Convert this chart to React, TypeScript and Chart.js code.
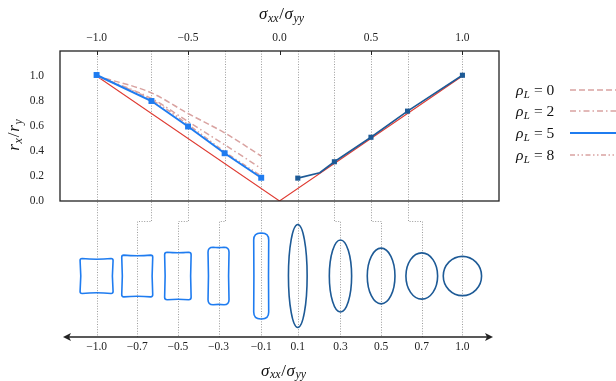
import React, { useEffect, useRef } from 'react';
import { Chart, registerables } from 'chart.js';
Chart.register(...registerables);

// ---- data ----
const stressLeft = [-1.0, -0.7, -0.5, -0.3, -0.1];
const stressRight = [0.1, 0.3, 0.5, 0.7, 1.0];
const stressAll = [...stressLeft, ...stressRight];
const topTicks = [-1.0, -0.5, 0.0, 0.5, 1.0];
const yTicks = [0.0, 0.2, 0.4, 0.6, 0.8, 1.0];

const ratioRho0 = [1.0, 0.865, 0.7, 0.545, 0.36];
const ratioRho2 = [1.0, 0.82, 0.635, 0.45, 0.26];
const ratioRho5Left = [1.008, 0.8, 0.596, 0.382, 0.186];
const ratioRho8 = [1.0, 0.81, 0.612, 0.395, 0.2];

const rho5RightCurveX = [0.1, 0.22, 0.3, 0.5, 0.7, 1.0];
const rho5RightCurveY = [0.183, 0.226, 0.314, 0.51, 0.719, 1.006];
const rho5RightMarks = [0.183, 0.314, 0.51, 0.719, 1.006];

const refX = [-1.0, 0.0, 1.0];
const refY = [1.0, 0.0, 1.0];

const legendLabels = ['0', '2', '5', '8'];

// pore glyph dimensions
const poreWidth = [33, 31, 26.5, 21, 15, 18.7, 22.3, 27.7, 31.7, 38.3];
const poreHeight = [35, 41.7, 47.6, 57.6, 86, 103, 72, 55.7, 46.3, 39.3];
const poreCorner = [2, 2, 2.5, 5, 7, 0, 0, 0, 0, 0];
const porePinch = [0.7, 0.6, 0.5, 0.45, 0.2, 0, 0, 0, 0, 0];

// ---- styles ----
const lightBlue = '#1f7cf0';
const darkBlue = '#1d5a96';
const pink = '#d9a3a1';
const red = '#df3b32';
const SERIF = '"Liberation Serif", "DejaVu Serif", serif';

const fmt = (v: number) => (v < 0 ? '\u2212' : '') + Math.abs(v).toFixed(1);
const pts = (xs: number[], ys: number[]) => xs.map((x, i) => ({ x, y: ys[i] }));

type Seg = { t: string; it?: boolean; sub?: boolean };

function mathWidth(ctx: CanvasRenderingContext2D, segs: Seg[], size: number, gap: number) {
  let w = 0;
  segs.forEach((s, i) => {
    ctx.font = `${s.it ? 'italic ' : ''}${s.sub ? size * 0.7 : size}px ${SERIF}`;
    w += ctx.measureText(s.t).width + (i < segs.length - 1 ? gap : 0);
  });
  return w;
}

function drawMath(ctx: CanvasRenderingContext2D, segs: Seg[], x: number, y: number, size: number, gap: number, align: 'left' | 'center', subDrop = 0.2) {
  const total = mathWidth(ctx, segs, size, gap);
  let cx = align === 'center' ? x - total / 2 : x;
  ctx.textAlign = 'left';
  ctx.textBaseline = 'alphabetic';
  segs.forEach((s) => {
    ctx.font = `${s.it ? 'italic ' : ''}${s.sub ? size * 0.7 : size}px ${SERIF}`;
    ctx.fillText(s.t, cx, y + (s.sub ? size * subDrop : 0));
    cx += ctx.measureText(s.t).width + gap;
  });
}

const sigmaTitle: Seg[] = [
  { t: 'σ', it: true },
  { t: 'xx', it: true, sub: true },
  { t: '/' },
  { t: 'σ', it: true },
  { t: 'yy', it: true, sub: true },
];
const rTitle: Seg[] = [
  { t: 'r', it: true },
  { t: 'x', it: true, sub: true },
  { t: '/' },
  { t: 'r', it: true },
  { t: 'y', it: true, sub: true },
];

function drawPore(ctx: CanvasRenderingContext2D, cx: number, cy: number, w: number, h: number, r: number, c: number) {
  ctx.beginPath();
  if (r === 0) {
    ctx.ellipse(cx, cy, w / 2, h / 2, 0, 0, Math.PI * 2);
  } else {
    const x0 = cx - w / 2, x1 = cx + w / 2, y0 = cy - h / 2, y1 = cy + h / 2;
    ctx.moveTo(x0 + r, y0);
    ctx.quadraticCurveTo(cx, y0 + 2 * c, x1 - r, y0);
    ctx.quadraticCurveTo(x1, y0, x1, y0 + r);
    ctx.quadraticCurveTo(x1 - 2 * c, cy, x1, y1 - r);
    ctx.quadraticCurveTo(x1, y1, x1 - r, y1);
    ctx.quadraticCurveTo(cx, y1 - 2 * c, x0 + r, y1);
    ctx.quadraticCurveTo(x0, y1, x0, y1 - r);
    ctx.quadraticCurveTo(x0 + 2 * c, cy, x0, y0 + r);
    ctx.quadraticCurveTo(x0, y0, x0 + r, y0);
    ctx.closePath();
  }
  ctx.stroke();
}

const JOG = 20;
const PORE_Y = 276;
const ARROW_Y = 337;

function bottomPositions(chart: any): number[] {
  const xs = chart.scales.x;
  const n = stressAll.length;
  return stressAll.map((v, i) => {
    const top = xs.getPixelForValue(v);
    const idx = xs.getPixelForValue(-1 + (i * 2) / (n - 1));
    return Math.abs(top - idx) < 4 ? top : idx;
  });
}

const figurePlugin = {
  id: 'figure',
  beforeDatasetsDraw(chart: any) {
    const { ctx, chartArea } = chart;
    const xs = chart.scales.x;
    const bp = bottomPositions(chart);
    ctx.save();
    ctx.strokeStyle = '#9c9c9c';
    ctx.lineWidth = 1;
    ctx.setLineDash([1, 1.6]);
    stressAll.forEach((v, i) => {
      const tx = Math.round(xs.getPixelForValue(v)) + 0.5;
      const bx = Math.round(bp[i]) + 0.5;
      const jy = Math.round(chartArea.bottom + JOG) + 0.5;
      ctx.beginPath();
      ctx.moveTo(tx, chartArea.top);
      if (tx === bx) {
        ctx.lineTo(tx, ARROW_Y);
      } else {
        ctx.lineTo(tx, jy);
        ctx.lineTo(bx, jy);
        ctx.lineTo(bx, ARROW_Y);
      }
      ctx.stroke();
    });
    ctx.restore();
  },
  afterDraw(chart: any) {
    const { ctx, chartArea } = chart;
    const xs = chart.scales.x;
    ctx.save();
    // frame
    ctx.strokeStyle = '#222';
    ctx.lineWidth = 1.3;
    ctx.strokeRect(chartArea.left, chartArea.top, chartArea.right - chartArea.left, chartArea.bottom - chartArea.top);
    // inward top ticks
    ctx.lineWidth = 1;
    topTicks.forEach((v) => {
      const x = Math.round(xs.getPixelForValue(v)) + 0.5;
      ctx.beginPath();
      ctx.moveTo(x, chartArea.top);
      ctx.lineTo(x, chartArea.top + 4);
      ctx.stroke();
    });

    ctx.fillStyle = '#111';
    // top title
    drawMath(ctx, sigmaTitle, 259, 19, 17, 0.6, 'left');
    // y title (rotated)
    ctx.save();
    ctx.translate(19, 135);
    ctx.rotate(-Math.PI / 2);
    drawMath(ctx, rTitle, 0, 0, 17, 0.8, 'center');
    ctx.restore();

    // legend
    const legendStyles = [
      { color: pink, dash: [6, 3], width: 1.5 },
      { color: pink, dash: [6, 3, 1.5, 3], width: 1.5 },
      { color: lightBlue, dash: [], width: 2 },
      { color: pink, dash: [5, 2.5, 1.5, 2.5, 1.5, 2.5], width: 1.5 },
    ];
    const legendY = [95, 116, 138, 160];
    legendLabels.forEach((lab, i) => {
      ctx.fillStyle = '#111';
      drawMath(ctx, [{ t: 'ρ', it: true }, { t: 'L', it: true, sub: true }, { t: ' = ' + lab }], 516, legendY[i], 15.5, 0.3, 'left');
      ctx.strokeStyle = legendStyles[i].color;
      ctx.lineWidth = legendStyles[i].width;
      ctx.setLineDash(legendStyles[i].dash);
      ctx.beginPath();
      ctx.moveTo(570, legendY[i] - 5);
      ctx.lineTo(616, legendY[i] - 5);
      ctx.stroke();
    });
    ctx.setLineDash([]);

    // bottom arrow axis
    const bp = bottomPositions(chart);
    const xl = 63, xr = 493;
    ctx.strokeStyle = '#222';
    ctx.fillStyle = '#222';
    ctx.lineWidth = 1.5;
    ctx.beginPath();
    ctx.moveTo(xl + 4, ARROW_Y);
    ctx.lineTo(xr - 4, ARROW_Y);
    ctx.stroke();
    ctx.beginPath();
    ctx.moveTo(xl, ARROW_Y);
    ctx.lineTo(xl + 8, ARROW_Y - 4);
    ctx.lineTo(xl + 6, ARROW_Y);
    ctx.lineTo(xl + 8, ARROW_Y + 4);
    ctx.closePath();
    ctx.fill();
    ctx.beginPath();
    ctx.moveTo(xr, ARROW_Y);
    ctx.lineTo(xr - 8, ARROW_Y - 4);
    ctx.lineTo(xr - 6, ARROW_Y);
    ctx.lineTo(xr - 8, ARROW_Y + 4);
    ctx.closePath();
    ctx.fill();

    // bottom tick labels
    ctx.fillStyle = '#222';
    ctx.font = `11.5px ${SERIF}`;
    ctx.textAlign = 'center';
    ctx.textBaseline = 'alphabetic';
    stressAll.forEach((v, i) => {
      ctx.fillText(fmt(v), bp[i], 350);
    });
    // bottom title
    ctx.fillStyle = '#111';
    drawMath(ctx, sigmaTitle, 261, 375.5, 17, 0.6, 'left', 0.15);

    // pores
    ctx.lineWidth = 1.6;
    stressAll.forEach((v, i) => {
      ctx.strokeStyle = v < 0 ? lightBlue : darkBlue;
      drawPore(ctx, bp[i], PORE_Y, poreWidth[i], poreHeight[i], poreCorner[i], porePinch[i]);
    });
    ctx.restore();
  },
};

export default function App() {
  const ref = useRef<HTMLCanvasElement>(null);
  useEffect(() => {
    const canvas = ref.current!;
    const chart = new Chart(canvas, {
      type: 'line',
      data: {
        datasets: [
          {
            label: 'rho5 left',
            data: pts(stressLeft, ratioRho5Left),
            borderColor: lightBlue,
            backgroundColor: lightBlue,
            borderWidth: 2,
            pointStyle: 'rect',
            pointRadius: 4.2,
            pointBorderWidth: 0,
          },
          {
            label: 'rho5 right marks',
            data: pts(stressRight, rho5RightMarks),
            showLine: false,
            borderColor: darkBlue,
            backgroundColor: darkBlue,
            pointStyle: 'rect',
            pointRadius: 3.6,
            pointBorderWidth: 0,
          },
          {
            label: 'rho5 right',
            data: pts(rho5RightCurveX, rho5RightCurveY),
            borderColor: darkBlue,
            borderWidth: 1.6,
            pointRadius: 0,
          },
          {
            label: 'rho8',
            data: pts(stressLeft, ratioRho8),
            borderColor: pink,
            borderWidth: 1.5,
            borderDash: [5, 2.5, 1.5, 2.5, 1.5, 2.5],
            pointRadius: 0,
            cubicInterpolationMode: 'monotone',
          },
          {
            label: 'rho2',
            data: pts(stressLeft, ratioRho2),
            borderColor: pink,
            borderWidth: 1.5,
            borderDash: [6, 3, 1.5, 3],
            pointRadius: 0,
            cubicInterpolationMode: 'monotone',
          },
          {
            label: 'rho0',
            data: pts(stressLeft, ratioRho0),
            borderColor: pink,
            borderWidth: 1.5,
            borderDash: [6, 3],
            pointRadius: 0,
            cubicInterpolationMode: 'monotone',
          },
          {
            label: 'reference',
            data: pts(refX, refY),
            borderColor: red,
            borderWidth: 1.1,
            pointRadius: 0,
          },
        ],
      },
      options: {
        responsive: false,
        animation: false,
        events: [],
        layout: { padding: { left: 0, top: 0, right: 117, bottom: 180 } },
        plugins: { legend: { display: false }, tooltip: { enabled: false } },
        scales: {
          x: {
            type: 'linear',
            position: 'top',
            min: -1.2,
            max: 1.2,
            grid: { display: false, drawTicks: false },
            border: { display: false },
            afterBuildTicks: (s: any) => {
              s.ticks = topTicks.map((v) => ({ value: v }));
            },
            afterFit: (s: any) => {
              s.height = 51;
            },
            ticks: {
              autoSkip: false,
              maxRotation: 0,
              padding: 6,
              color: '#222',
              font: { family: SERIF, size: 11.5 },
              callback: (v: any) => fmt(Number(v)),
            },
          },
          y: {
            type: 'linear',
            min: 0,
            max: 1.2,
            grid: { display: false, drawTicks: false },
            border: { display: false },
            afterBuildTicks: (s: any) => {
              s.ticks = yTicks.map((v) => ({ value: v }));
            },
            afterFit: (s: any) => {
              s.width = 60;
            },
            ticks: {
              padding: 16,
              color: '#222',
              font: { family: SERIF, size: 11.5 },
              callback: (v: any) => fmt(Number(v)),
            },
          },
        },
      },
      plugins: [figurePlugin],
    } as any);
    return () => chart.destroy();
  }, []);
  return (
    <div style={{ position: 'fixed', left: 0, top: 0, width: 616, height: 381, background: '#fff' }}>
      <canvas ref={ref} width={616} height={381} style={{ width: 616, height: 381, display: 'block' }} />
    </div>
  );
}
